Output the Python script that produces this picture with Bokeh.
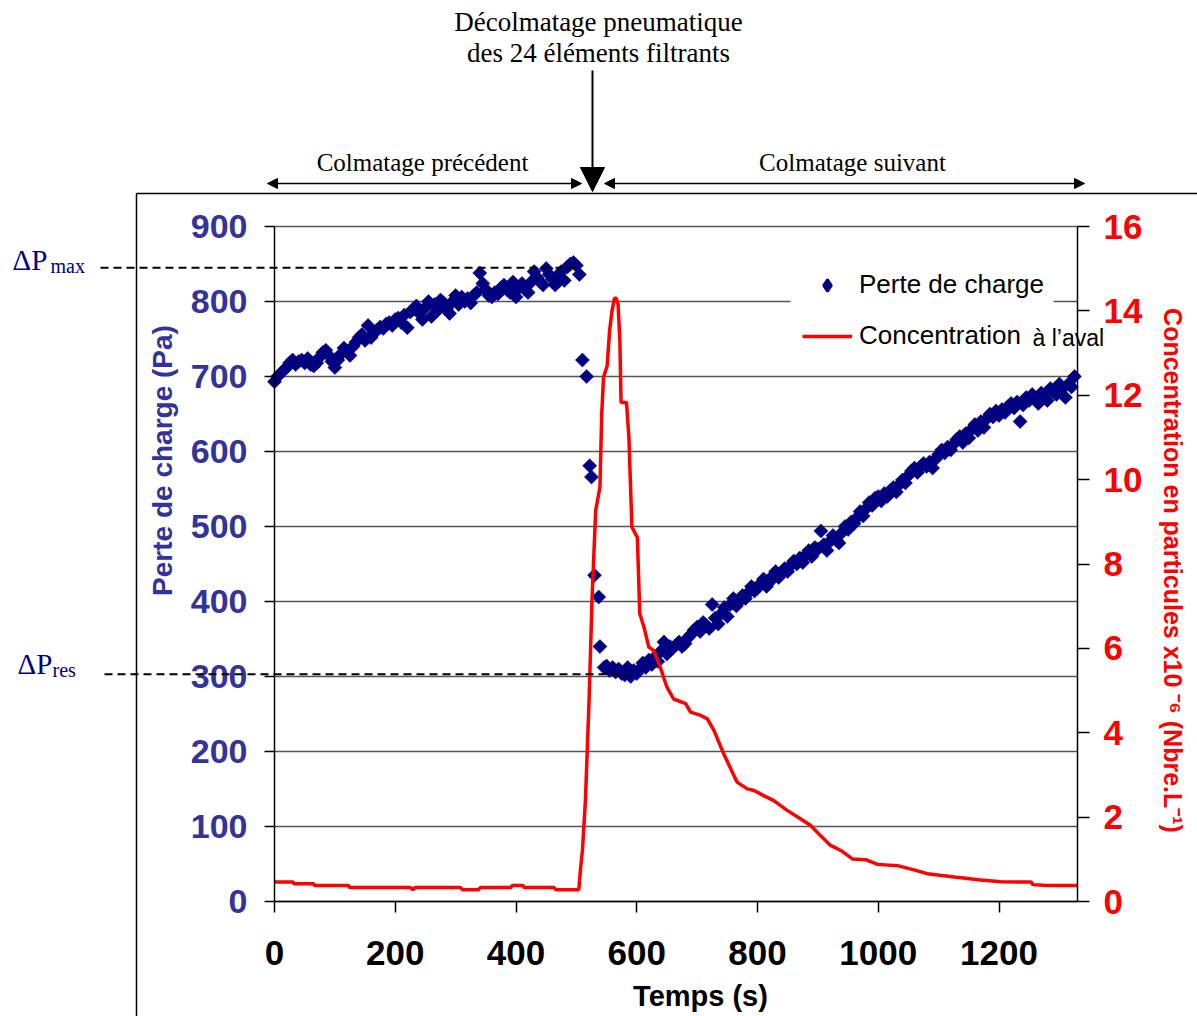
import math
from bokeh.plotting import figure
from bokeh.models import (Range1d, LinearAxis, FixedTicker, Legend, LegendItem,
                          Label, Arrow, NormalHead, ColumnDataSource, BoxAnnotation)
from bokeh.embed import file_html
from bokeh.resources import INLINE

# ---------------- data ----------------
# Perte de charge (Pa) vs temps (s)
t_before = [0, 5, 10, 15, 20, 25, 30, 35, 40, 45, 50, 55, 60, 65, 70, 75, 80, 85, 90, 95,
            100, 105, 110, 115, 120, 125, 130, 135, 140, 145, 150, 155, 160, 165, 170, 175, 180, 185, 190, 195,
            200, 205, 210, 215, 220, 225, 230, 235, 240, 245, 250, 255, 260, 265, 270, 275, 280, 285, 290, 295,
            300, 305, 310, 315, 320, 325, 330, 335, 340, 345, 350, 355, 360, 365, 370, 375, 380, 385, 390, 395,
            400, 405, 410, 415, 420, 425, 430, 435, 440, 445, 450, 455, 460, 465, 470, 475, 480, 485, 490, 495,
            500, 505]
dp_before = [693, 700, 704, 708, 712, 718, 722, 716, 720, 722, 718, 724, 716, 714, 718, 726, 732, 735, 728, 720,
             712, 722, 730, 738, 734, 728, 740, 746, 752, 756, 748, 768, 752, 758, 762, 766, 764, 770, 772, 768,
             776, 778, 772, 782, 765, 786, 790, 794, 784, 776, 792, 800, 780, 796, 788, 802, 798, 790, 784, 800,
             808, 796, 806, 800, 804, 798, 808, 812, 838, 824, 816, 808, 806, 812, 810, 818, 822, 816, 812, 826,
             806, 818, 824, 816, 812, 826, 840, 832, 826, 822, 844, 836, 830, 822, 834, 840, 828, 846, 850, 852,
             848, 836]
t_blow = [510, 517, 522, 525, 530, 537, 539, 546]
dp_blow = [722, 700, 581, 566, 435, 406, 340, 312]
t_after = [550, 555, 560, 565, 570, 575, 580, 585, 590, 595, 600, 605, 610, 615, 620, 625, 630, 635, 640, 645,
           650, 655, 660, 665, 670, 675, 680, 685, 690, 695, 700, 705, 710, 715, 720, 725, 730, 735, 740, 745,
           750, 755, 760, 765, 770, 775, 780, 785, 790, 795, 800, 805, 810, 815, 820, 825, 830, 835, 840, 845,
           850, 855, 860, 865, 870, 875, 880, 885, 890, 895, 900, 905, 910, 915, 920, 925, 930, 935, 940, 945,
           950, 955, 960, 965, 970, 975, 980, 985, 990, 995, 1000, 1005, 1010, 1015, 1020, 1025, 1030, 1035, 1040, 1045,
           1050, 1055, 1060, 1065, 1070, 1075, 1080, 1085, 1090, 1095, 1100, 1105, 1110, 1115, 1120, 1125, 1130, 1135, 1140, 1145,
           1150, 1155, 1160, 1165, 1170, 1175, 1180, 1185, 1190, 1195, 1200, 1205, 1210, 1215, 1220, 1225, 1230, 1235, 1240, 1245,
           1250, 1255, 1260, 1265, 1270, 1275, 1280, 1285, 1290, 1295, 1300, 1305, 1310, 1315, 1320, 1325]
dp_after = [314, 308, 312, 306, 310, 304, 302, 312, 300, 308, 304, 310, 318, 312, 322, 316, 326, 320, 334, 346,
            330, 340, 338, 342, 346, 340, 344, 352, 356, 362, 366, 360, 372, 368, 364, 396, 378, 370, 384, 392,
            380, 396, 404, 394, 400, 408, 404, 412, 420, 414, 418, 424, 430, 420, 426, 434, 440, 432, 438, 444,
            440, 448, 454, 450, 458, 452, 462, 468, 460, 472, 470, 494, 476, 468, 480, 488, 482, 478, 492, 500,
            496, 506, 504, 512, 520, 514, 524, 532, 528, 538, 540, 534, 544, 540, 548, 552, 546, 556, 562, 558,
            568, 574, 578, 572, 580, 584, 580, 586, 578, 590, 596, 602, 598, 606, 602, 610, 616, 620, 612, 624,
            618, 630, 636, 628, 640, 632, 644, 650, 646, 654, 648, 656, 652, 660, 664, 658, 666, 640, 662, 672,
            668, 676, 670, 664, 678, 672, 668, 684, 680, 676, 690, 684, 672, 690, 686, 700]
t_dp = t_before + t_blow + t_after
dp = dp_before + dp_blow + dp_after

# Concentration a l'aval (x10^-6 Nbre/L)
t_conc = [0, 31, 32, 65, 66, 123, 124, 225, 229, 233, 308, 311, 338, 341, 391, 394, 411, 414, 463, 466,
          504, 507, 510, 515, 521, 526, 532, 539, 542, 545, 551, 555, 559, 563, 566, 569, 572, 574, 583, 587,
          592, 601, 605, 612, 620, 628, 639, 650, 661, 681, 689, 706, 717, 728, 744, 766, 783, 794, 810, 827,
          849, 871, 888, 905, 921, 938, 957, 979, 999, 1032, 1059, 1081, 1126, 1170, 1203, 1253, 1256, 1280, 1330]
conc = [0.46, 0.46, 0.42, 0.42, 0.38, 0.38, 0.33, 0.33, 0.28, 0.33, 0.33, 0.28, 0.28, 0.33, 0.33, 0.38, 0.38, 0.33, 0.33, 0.28,
        0.28, 0.8, 1.2, 2.4, 4.76, 7.2, 9.27, 9.82, 11.56, 12.43, 12.7, 13.53, 14.0, 14.3, 14.3, 14.17, 13.3, 11.83, 11.83, 11.0,
        8.87, 8.63, 6.82, 6.5, 6.03, 5.95, 5.55, 5.08, 4.8, 4.69, 4.49, 4.41, 4.33, 4.05, 3.5, 2.83, 2.67, 2.63, 2.51, 2.39,
        2.16, 1.96, 1.8, 1.55, 1.33, 1.21, 1.01, 0.99, 0.88, 0.85, 0.75, 0.66, 0.58, 0.51, 0.47, 0.46, 0.4, 0.38, 0.38]

x_ticks = [0, 200, 400, 600, 800, 1000, 1200]
y_ticks = [0, 100, 200, 300, 400, 500, 600, 700, 800, 900]
y2_ticks = [0, 2, 4, 6, 8, 10, 12, 14, 16]
dp_max = 845
dp_res = 303

X_MAX, Y_MAX, Y2_MAX = 1330, 900, 16

# ---------------- layout ----------------
W, H = 1197, 1016
PL, PR, PT, PB = 274, 1077, 226, 901   # plot-area edges in canvas pixels


def dx(px):
    return (px - PL) * X_MAX / (PR - PL)


def dy(py):
    return (PB - py) * Y_MAX / (PB - PT)


def dc(py):
    return (PB - py) * Y2_MAX / (PB - PT)


NAVY = "#000080"
AXBLUE = "#333399"
RED = "#FF0000"
SANS = "Liberation Sans"
SERIF = "Liberation Serif"

p = figure(width=W, height=H, x_range=Range1d(dx(0), dx(W)), y_range=Range1d(dy(H), dy(0)),
           output_backend="svg", toolbar_location=None, title=None, min_border=0,
           background_fill_color="white", border_fill_color="white", outline_line_color=None)
p.extra_y_ranges = {"conc": Range1d(dc(H), dc(0))}

# grid
p.xgrid.visible = False
p.ygrid.ticker = FixedTicker(ticks=y_ticks)
p.ygrid.grid_line_color = "#555555"
p.ygrid.grid_line_width = 1.3
p.ygrid.bounds = (0, Y_MAX)
try:
    p.ygrid.cross_bounds = (0, X_MAX)
except Exception:
    p.ygrid.visible = False
    p.segment(x0=[0] * len(y_ticks), y0=y_ticks, x1=[X_MAX] * len(y_ticks), y1=y_ticks,
              line_color="#555555", line_width=1.3)

# white area behind the legend (hides the gridline there)
p.add_layout(BoxAnnotation(left=dx(790), right=dx(1053), top=dy(262), bottom=dy(312),
                           fill_color="white", fill_alpha=1.0, line_color=None, level="underlay"))


def style_axis(ax, size, color, tick_out, standoff):
    ax.axis_line_color = "black"
    ax.axis_line_width = 1.5
    ax.major_tick_line_color = "black"
    ax.major_tick_line_width = 1.5
    ax.major_tick_out = tick_out
    ax.major_tick_in = 0
    ax.minor_tick_line_color = None
    ax.major_label_text_font = SANS
    ax.major_label_text_font_style = "bold"
    ax.major_label_text_font_size = size
    ax.major_label_text_color = color
    ax.major_label_standoff = standoff


xa = p.xaxis[0]
xa.ticker = FixedTicker(ticks=x_ticks)
xa.fixed_location = 0
xa.bounds = (0, X_MAX)
style_axis(xa, "35px", "black", 11, 28)

ya = p.yaxis[0]
ya.ticker = FixedTicker(ticks=y_ticks)
ya.fixed_location = 0
ya.bounds = (0, Y_MAX)
style_axis(ya, "34px", AXBLUE, 10, 17)

ra = LinearAxis(y_range_name="conc", ticker=FixedTicker(ticks=y2_ticks))
ra.fixed_location = X_MAX
ra.bounds = (0, Y2_MAX)
style_axis(ra, "35px", RED, 12, 14)
p.add_layout(ra, "right")

# data
src_dp = ColumnDataSource(dict(t=t_dp, v=dp))
r_dp = p.scatter("t", "v", source=src_dp, marker="square", angle=math.pi / 4, size=10,
                 fill_color=NAVY, line_color=NAVY, line_width=0.5)
src_c = ColumnDataSource(dict(t=t_conc, v=conc))
r_c = p.line("t", "v", source=src_c, y_range_name="conc", line_color=RED, line_width=3.5)
# legend proxy (diamond symbol, no visible point)
r_leg = p.scatter(x=[float("nan")], y=[float("nan")], marker="diamond", size=10,
                  fill_color=NAVY, line_color=NAVY, line_width=2.5)

# dashed lines dPmax / dPres
p.add_layout(Arrow(end=None, x_start=dx(100), y_start=dp_max, x_end=dx(580), y_end=dp_max,
                   line_color="black", line_width=2, line_dash="8 5"))
p.add_layout(Arrow(end=None, x_start=dx(104), y_start=dp_res, x_end=dx(628), y_end=dp_res,
                   line_color="black", line_width=2, line_dash="8 5"))

# outer chart-area border
p.add_layout(Arrow(end=None, x_start=dx(136), y_start=dy(193), x_end=dx(136), y_end=dy(1030),
                   line_color="black", line_width=1.5))
p.add_layout(Arrow(end=None, x_start=dx(136), y_start=dy(193), x_end=dx(1210), y_end=dy(193),
                   line_color="black", line_width=1.5))

# top arrows
p.add_layout(Arrow(end=NormalHead(size=24, fill_color="black", line_color="black"),
                   x_start=dx(592), y_start=dy(70), x_end=dx(592), y_end=dy(191),
                   line_color="black", line_width=2))
for xa0, xa1 in ((267, 581), (604, 1084)):
    p.add_layout(Arrow(start=NormalHead(size=10, fill_color="black", line_color="black"),
                       end=NormalHead(size=10, fill_color="black", line_color="black"),
                       x_start=dx(xa0), y_start=dy(183), x_end=dx(xa1), y_end=dy(183),
                       line_color="black", line_width=1.5))


# texts (py = desired visual baseline in canvas pixels)
def lab(px, py, text, size, font=SERIF, color="black", align="left", style="normal"):
    fs = float(size.replace("px", ""))
    p.add_layout(Label(x=dx(px), y=dy(py - 0.37 * fs), text=text, text_font=font, text_font_size=size,
                       text_color=color, text_align=align, text_baseline="alphabetic",
                       text_font_style=style))


def vlab(px, py, text, size, color, angle):
    p.add_layout(Label(x=dx(px), y=dy(py), text=text, text_font=SANS, text_font_size=size,
                       text_color=color, text_align="center", text_baseline="middle",
                       text_font_style="bold", angle=angle))


lab(598, 31, "Décolmatage pneumatique", "27px", align="center")
lab(598, 62, "des 24 éléments filtrants", "27px", align="center")
lab(422, 171, "Colmatage précédent", "25px", align="center")
lab(852, 171, "Colmatage suivant", "25px", align="center")
lab(12, 270, "\u0394P", "29px", color=NAVY)
lab(50, 273, "max", "20px", color=NAVY)
lab(17, 674, "\u0394P", "29px", color=NAVY)
lab(52, 677, "res", "20px", color=NAVY)

# axis titles
lab(700, 1006, "Temps (s)", "29px", font=SANS, style="bold", align="center")
vlab(162, 460, "Perte de charge (Pa)", "28px", AXBLUE, math.pi / 2)
vlab(1172, 570, "Concentration en particules x10 \u207b\u2076 (Nbre.L\u207b\u00b9)", "25px", RED, -math.pi / 2)

# legend (transparent; the white box above hides the gridline)
legend = Legend(items=[LegendItem(label="Perte de charge", renderers=[r_leg]),
                       LegendItem(label="Concentration", renderers=[r_c])],
                location=(802, 665), glyph_width=50, glyph_height=30, label_height=30,
                label_standoff=7, padding=10, spacing=20, margin=0,
                border_line_color=None, background_fill_alpha=0.0,
                label_text_font=SANS, label_text_font_size="26px", label_text_color="black")
p.add_layout(legend)
lab(1032, 346, "à l\u2019aval", "23px", font=SANS)

open("out.html", "w").write(file_html(p, INLINE))
